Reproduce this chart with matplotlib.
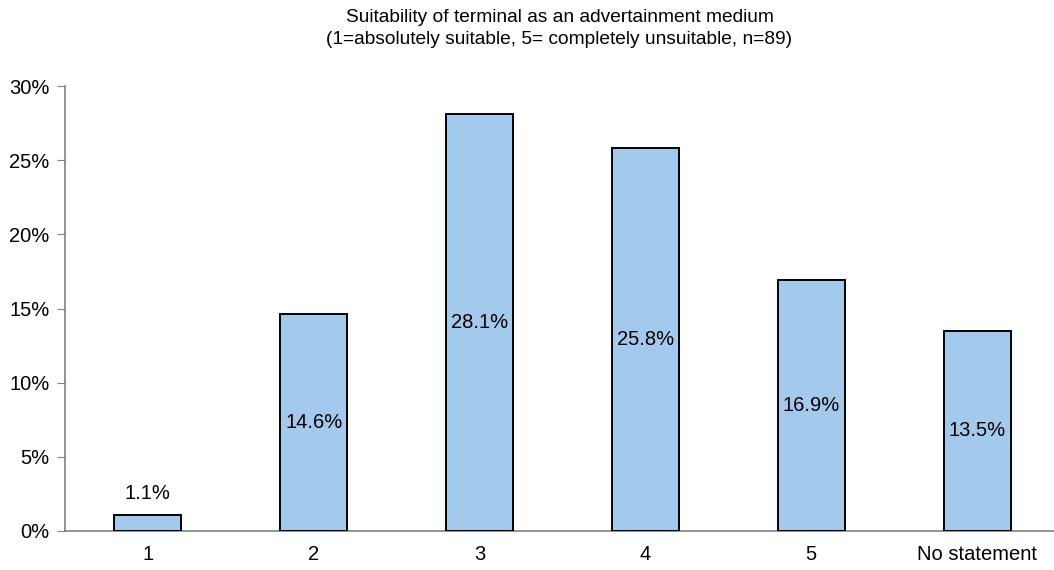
import matplotlib
matplotlib.use("Agg")
import matplotlib.pyplot as plt
from matplotlib.ticker import FuncFormatter

plt.rcParams['font.family'] = ['Liberation Sans', 'DejaVu Sans']

categories = ["1", "2", "3", "4", "5", "No statement"]
shares = [1.1, 14.6, 28.1, 25.8, 16.9, 13.5]
title_lines = ["Suitability of terminal as an advertainment medium",
               "(1=absolutely suitable, 5= completely unsuitable, n=89)"]

W, H = 1054, 570
fig = plt.figure(figsize=(W / 100, H / 100), dpi=100)
left_px, right_px, bottom_px, top_px = 65, 1060, 531, 86
ax = fig.add_axes([left_px / W, 1 - bottom_px / H,
                   (right_px - left_px) / W, (bottom_px - top_px) / H])

x = range(len(categories))
ax.bar(x, shares, width=0.404, color="#a3c9ec", edgecolor="black", linewidth=1.4, zorder=3)

for xi, v in zip(x, shares):
    if v < 5:
        ax.text(xi, v + 0.8, f"{v:.1f}%", ha="center", va="bottom", fontsize=14.5)
    else:
        ax.text(xi, v / 2, f"{v:.1f}%", ha="center", va="center", fontsize=14.5)

ax.set_xlim(-0.5, len(categories) - 0.5)
ax.set_ylim(0, 30)
ax.set_yticks(range(0, 31, 5))
ax.yaxis.set_major_formatter(FuncFormatter(lambda v, p: f"{v:.0f}%"))
ax.set_xticks(list(x))
ax.set_xticklabels(categories)

for s in ["top", "right"]:
    ax.spines[s].set_visible(False)
for s in ["left", "bottom"]:
    ax.spines[s].set_color("#808080")
    ax.spines[s].set_linewidth(1.2)

ax.tick_params(axis="y", length=6, color="#808080", labelsize=14.5, pad=5)
ax.tick_params(axis="x", length=0, labelsize=14.5, pad=10)

cx = (left_px + 1054) / 2 / W
fig.text(cx, 1 - 18 / H, title_lines[0], ha="center", va="center", fontsize=13.8)
fig.text(cx, 1 - 40 / H, title_lines[1], ha="center", va="center", fontsize=13.8)

fig.savefig("out.png", dpi=100)
